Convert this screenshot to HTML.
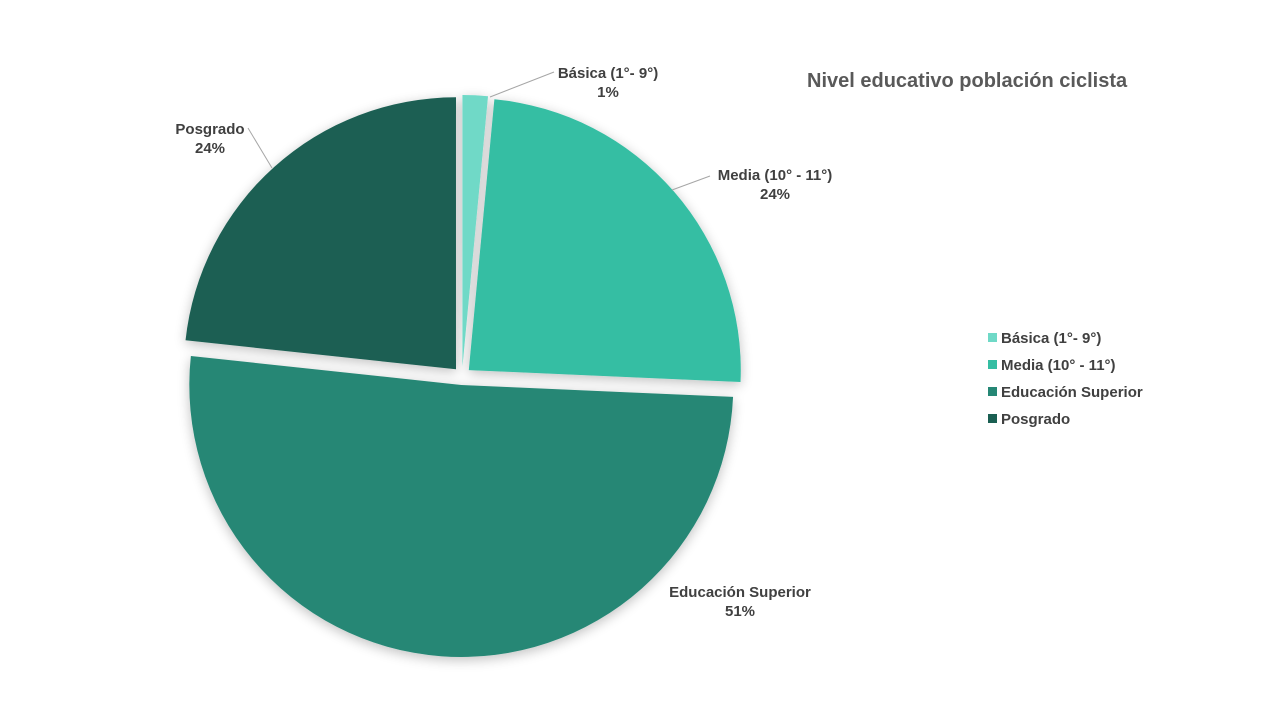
<!DOCTYPE html>
<html><head><meta charset="utf-8"><style>
body{margin:0;width:1280px;height:720px;background:#fff;font-family:"Liberation Sans",sans-serif;overflow:hidden}
svg text{font-family:"Liberation Sans",sans-serif;font-weight:bold;fill:#404040}
</style></head><body>
<svg id="chart" width="1280" height="720">
<defs><filter id="sh" x="-20%" y="-20%" width="140%" height="140%"><feGaussianBlur in="SourceAlpha" stdDeviation="6"/><feOffset dx="0" dy="3"/><feComponentTransfer><feFuncA type="linear" slope="0.25"/></feComponentTransfer><feMerge><feMergeNode/><feMergeNode in="SourceGraphic"/></feMerge></filter></defs>
<text x="807" y="87" font-size="20" style="fill:#595959">Nivel educativo población ciclista</text>
<g id="slices" filter="url(#sh)"></g>
<g id="labels"></g>
<g id="legend"></g>
</svg>
<script>
const categories=["Básica (1°- 9°)","Media (10° - 11°)","Educación Superior","Posgrado"];
const values=[1.5,24.2,51,23.3];
const pctLabels=["1%","24%","51%","24%"];
const colors=["#6fd9c7","#35bea3","#258775","#1a5f52"];
const NS="http://www.w3.org/2000/svg";
const cx=462,cy=376,r=272,off=9;
const total=values.reduce((a,b)=>a+b,0);
function pt(a,rad,ox,oy){return [ox+rad*Math.sin(a),oy-rad*Math.cos(a)];}
const gS=document.getElementById('slices'),gL=document.getElementById('labels'),gG=document.getElementById('legend');
const labelPos=[[608,78,'start'],[775,180,'start'],[740,597,'middle'],[210,134,'middle']];
const leader=[[[554,72],[490,97]],[[710,176],[672,190]],null,[[248,128],[272,168]]];
let a0=0;
values.forEach((v,i)=>{
 const a1=a0+v/total*2*Math.PI, m=(a0+a1)/2;
 const ox=cx+off*Math.sin(m), oy=cy-off*Math.cos(m);
 const p0=pt(a0,r,ox,oy),p1=pt(a1,r,ox,oy);
 const large=(a1-a0)>Math.PI?1:0;
 const p=document.createElementNS(NS,'path');
 p.setAttribute('d',`M${ox},${oy}L${p0[0]},${p0[1]}A${r},${r} 0 ${large} 1 ${p1[0]},${p1[1]}Z`);
 p.setAttribute('fill',colors[i]);
 
 
 gS.appendChild(p);
 const lp=labelPos[i];
 const t=document.createElementNS(NS,'text');
 t.setAttribute('x',lp[0]);t.setAttribute('y',lp[1]);t.setAttribute('font-size','15');t.setAttribute('text-anchor','middle');
 
 
 const c=lp[0];
 t.innerHTML=`<tspan x="${c}">${categories[i]}</tspan><tspan x="${c}" dy="19">${pctLabels[i]}</tspan>`;
 gL.appendChild(t);
 if(leader[i]){const l=document.createElementNS(NS,'polyline');
  l.setAttribute('points',leader[i].map(q=>q.join(',')).join(' '));l.setAttribute('fill','none');l.setAttribute('stroke','#a6a6a6');
  
  
  gL.appendChild(l);}
 const ly=338+i*27;
 const sq=document.createElementNS(NS,'rect');
 sq.setAttribute('x',988);sq.setAttribute('y',ly-5);sq.setAttribute('width',9);sq.setAttribute('height',9);sq.setAttribute('fill',colors[i]);
 
 
 gG.appendChild(sq);
 const lt=document.createElementNS(NS,'text');
 lt.setAttribute('x',1001);lt.setAttribute('y',ly+5);lt.setAttribute('font-size','15');lt.textContent=categories[i];
 
 
 gG.appendChild(lt);
 a0=a1;
});
</script>
</body></html>
